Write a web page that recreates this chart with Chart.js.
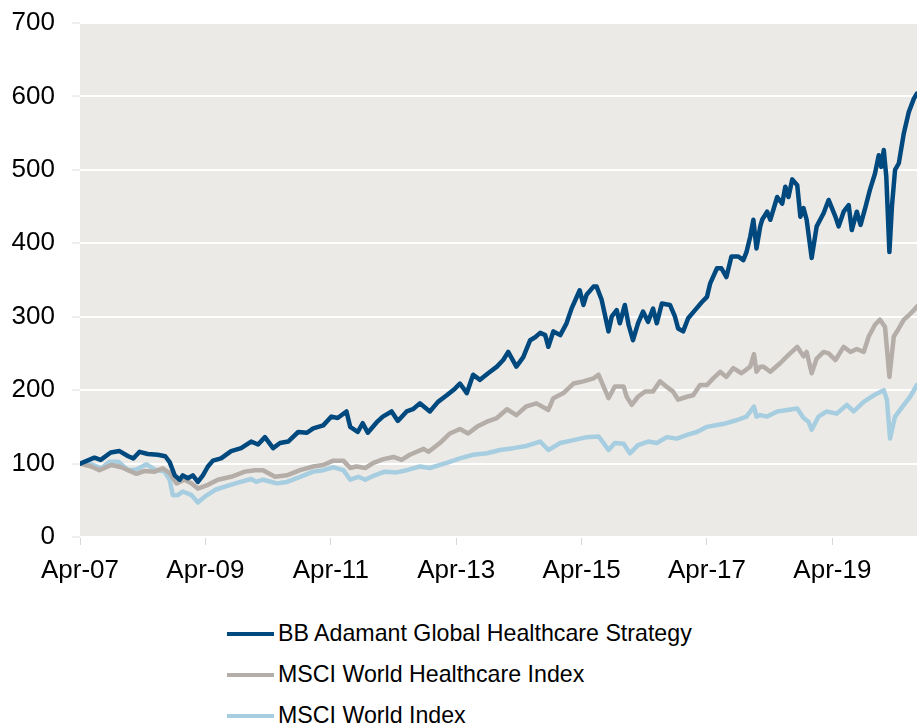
<!DOCTYPE html>
<html><head><meta charset="utf-8">
<script src="https://cdn.jsdelivr.net/npm/chart.js@4"></script>
<style>
html,body{margin:0;padding:0;background:#fff;}
#wrap{position:relative;width:917px;height:726px;overflow:hidden;}
#cbox{position:absolute;left:0;top:0;width:917px;height:600px;}
#legend{position:absolute;left:227px;top:613px;font-family:"Liberation Sans",Arial,sans-serif;font-size:23.2px;color:#000;}
.item{display:flex;align-items:center;height:41px;white-space:nowrap;}
.swatch{width:47px;height:4px;margin-right:4px;}
</style></head>
<body><div id="wrap"><div id="cbox"><canvas id="c" width="917" height="600"></canvas></div><div id="legend"></div></div>
<script>
// ---- data (dates as decimal years) ----
const seriesNames = ['BB Adamant Global Healthcare Strategy','MSCI World Healthcare Index','MSCI World Index'];
const seriesColors = ['#00497F','#B5ADA8','#A6CEE0'];

const bbDates = [
2007.25,2007.48,2007.58,2007.74,2007.88,2008.02,2008.10,2008.20,2008.33,2008.49,
2008.61,2008.68,2008.76,2008.84,2008.89,2008.97,2009.05,2009.13,2009.21,2009.29,
2009.37,2009.50,2009.66,2009.82,2009.98,2010.09,2010.20,2010.33,2010.44,2010.57,
2010.73,2010.87,2010.97,2011.13,2011.26,2011.36,2011.50,2011.56,2011.68,2011.76,
2011.84,2011.98,2012.08,2012.22,2012.32,2012.46,2012.56,2012.67,2012.83,2012.96,
2013.10,2013.23,2013.31,2013.42,2013.52,2013.63,2013.76,2013.90,2014.00,2014.08,
2014.21,2014.32,2014.43,2014.51,2014.59,2014.67,2014.72,2014.80,2014.91,2015.01,
2015.09,2015.22,2015.28,2015.33,2015.44,2015.49,2015.57,2015.68,2015.73,2015.81,
2015.86,2015.94,2016.00,2016.07,2016.15,2016.23,2016.31,2016.39,2016.45,2016.53,
2016.66,2016.74,2016.79,2016.87,2016.95,2017.06,2017.17,2017.25,2017.30,2017.41,
2017.48,2017.56,2017.64,2017.75,2017.83,2017.88,2017.94,2017.99,2018.04,2018.10,
2018.13,2018.21,2018.26,2018.37,2018.45,2018.50,2018.55,2018.61,2018.69,2018.74,
2018.79,2018.84,2018.92,2019.00,2019.11,2019.19,2019.30,2019.35,2019.43,2019.51,
2019.56,2019.64,2019.70,2019.78,2019.85,2019.93,2019.99,2020.03,2020.07,2020.11,
2020.16,2020.20,2020.25,2020.31,2020.39,2020.47,2020.55,2020.60];
const bbValues = [
100,108,105,115,117,110,107,116,113,112,
110,102,84,78,84,80,84,75,84,96,
104,107,117,121,130,126,136,121,128,130,
143,142,148,152,164,162,171,150,143,155,
142,156,164,171,158,171,174,182,171,184,
193,202,209,196,221,214,223,232,241,252,
232,245,268,272,278,275,259,280,275,291,
311,336,316,330,341,341,323,280,300,309,
291,316,289,268,291,307,293,311,291,318,
316,300,284,280,298,309,320,327,345,366,
366,354,382,382,377,388,409,432,393,423,
432,443,432,463,454,477,463,487,479,436,
448,432,380,423,441,459,436,423,443,452,
418,443,425,450,473,495,520,504,527,491,
388,450,500,509,550,579,597,604];

const hcDates = [
2007.25,2007.43,2007.56,2007.75,2007.91,2008.15,2008.28,2008.44,2008.57,2008.68,
2008.79,2008.92,2009.03,2009.13,2009.29,2009.45,2009.66,2009.88,2010.04,2010.17,
2010.36,2010.55,2010.76,2010.97,2011.13,2011.29,2011.45,2011.56,2011.66,2011.80,
2011.93,2012.09,2012.25,2012.38,2012.51,2012.73,2012.81,2012.99,2013.15,2013.31,
2013.44,2013.58,2013.74,2013.90,2014.06,2014.21,2014.37,2014.53,2014.72,2014.80,
2014.96,2015.12,2015.28,2015.44,2015.52,2015.60,2015.68,2015.78,2015.92,2015.97,
2016.05,2016.15,2016.26,2016.39,2016.50,2016.63,2016.71,2016.79,2016.93,2017.03,
2017.14,2017.25,2017.35,2017.46,2017.56,2017.67,2017.80,2017.94,2018.00,2018.04,
2018.10,2018.15,2018.26,2018.42,2018.55,2018.69,2018.79,2018.84,2018.92,2019.00,
2019.11,2019.19,2019.30,2019.43,2019.54,2019.64,2019.75,2019.83,2019.93,2020.01,
2020.09,2020.16,2020.23,2020.31,2020.39,2020.47,2020.55,2020.60];
const hcValues = [
100,96,91,98,95,86,90,89,93.5,87,
73,78,73,66,71,78,82,89,91,91,
82,84,91,96,98,104,104,94,96,94,
101,106,109,105,112,120,116,128,141,147,
141,150,157,162,174,166,178,182,173,189,
196,209,212,216,221,205,189,205,205,191,
180,191,198,198,212,203,198,187,191,193,
207,207,216,225,218,230,223,232,249,225,
232,232,225,237,248,259,246,252,223,243,
252,250,241,259,252,256,252,273,289,296,
286,218,273,284,296,302,309,314];

const worldDates = [
2007.25,2007.43,2007.59,2007.72,2007.86,2008.02,2008.15,2008.31,2008.44,2008.60,
2008.68,2008.73,2008.81,2008.89,2009.03,2009.13,2009.24,2009.40,2009.56,2009.77,
2009.98,2010.06,2010.17,2010.39,2010.55,2010.76,2010.97,2011.13,2011.29,2011.45,
2011.56,2011.69,2011.80,2011.95,2012.11,2012.30,2012.46,2012.67,2012.83,2013.10,
2013.31,2013.52,2013.74,2013.95,2014.16,2014.37,2014.59,2014.72,2014.91,2015.12,
2015.33,2015.52,2015.60,2015.68,2015.78,2015.92,2016.02,2016.15,2016.31,2016.45,
2016.61,2016.77,2016.93,2017.09,2017.25,2017.41,2017.56,2017.72,2017.88,2018.00,
2018.04,2018.10,2018.21,2018.37,2018.53,2018.69,2018.79,2018.87,2018.92,2019.03,
2019.16,2019.32,2019.48,2019.59,2019.75,2019.91,2020.07,2020.12,2020.17,2020.25,
2020.39,2020.49,2020.60];
const worldValues = [
100,99,93.5,102.5,102.5,91,92,99,92,89,
78,57,57,62,57,47,55,64,68.5,74,
79,75,78,73,75,82,89,91,95,91,
78,82,78,84,89,88,91,96,94,101,
107,112,114,118.5,121,124,130,118.5,128,132,
136,137,128,118.5,128,127,114,125,130,128,
136,134,139,143,150,152.5,155,159,164,177.5,
164,166,164,171,173,175,162,157,146,164,
171,168,180,171,184,193,200,187,134,164,
180,191,207];

const xStart = 2007.25, xEnd = 2020.60;
const xTickValues = [2007.25,2009.25,2011.25,2013.25,2015.25,2017.25,2019.25];
const xTickLabels = ['Apr-07','Apr-09','Apr-11','Apr-13','Apr-15','Apr-17','Apr-19'];
const yMin = 0, yMax = 700, yStep = 100;

// ---- build ----
function pts(d, v){ return d.map((x,i)=>({x:x, y:v[i]})); }
const FONT = 'Liberation Sans, Arial, sans-serif';

const bgPlugin = {
  id:'bg',
  beforeDraw(chart){
    const {ctx, chartArea:a} = chart;
    ctx.save(); ctx.fillStyle = '#ECEAE6';
    ctx.fillRect(a.left, a.top, a.right - a.left, a.bottom - a.top);
    ctx.restore();
  }
};

const ds = [
  {label:seriesNames[0], data:pts(bbDates,bbValues), borderColor:seriesColors[0]},
  {label:seriesNames[1], data:pts(hcDates,hcValues), borderColor:seriesColors[1]},
  {label:seriesNames[2], data:pts(worldDates,worldValues), borderColor:seriesColors[2]}
].map(d=>Object.assign(d,{borderWidth:4.5, pointRadius:0, tension:0, fill:false, borderJoinStyle:'round', borderCapStyle:'round'}));

new Chart(document.getElementById('c'), {
  type:'line',
  data:{datasets:ds},
  plugins:[bgPlugin],
  options:{
    responsive:false, animation:false, parsing:true,
    layout:{padding:{top:23, right:0, left:0, bottom:0}},
    plugins:{legend:{display:false}, tooltip:{enabled:false}},
    scales:{
      x:{
        type:'linear', min:xStart, max:xEnd,
        afterBuildTicks:s=>{ s.ticks = xTickValues.map(v=>({value:v})); },
        afterFit:s=>{ s.height = 63; s.paddingRight = 0; },
        ticks:{
          autoSkip:false, maxRotation:0, minRotation:0, padding:10,
          color:'#000', font:{family:FONT, size:26},
          callback:(v)=>{ const i = xTickValues.findIndex(t=>Math.abs(t-v)<0.01); return i>=0 ? xTickLabels[i] : ''; }
        },
        grid:{drawOnChartArea:false, drawTicks:true, tickLength:8, tickColor:'#D8D8D8', lineWidth:1},
        border:{display:false}
      },
      y:{
        min:yMin, max:yMax,
        afterFit:s=>{ s.width = 80; s.paddingTop = 0; s.paddingBottom = 0; },
        ticks:{stepSize:yStep, padding:17, color:'#000', font:{family:FONT, size:26}},
        grid:{color:'#FFFFFF', lineWidth:2, tickLength:8, tickColor:'#DEDEDE', tickWidth:1},
        border:{display:false}
      }
    }
  }
});

// ---- HTML legend ----
const lg = document.getElementById('legend');
seriesNames.forEach((n,i)=>{
  const row = document.createElement('div'); row.className='item';
  const sw = document.createElement('span'); sw.className='swatch'; sw.style.background = seriesColors[i];
  const tx = document.createElement('span'); tx.textContent = n;
  row.appendChild(sw); row.appendChild(tx); lg.appendChild(row);
});
</script>
</body></html>
